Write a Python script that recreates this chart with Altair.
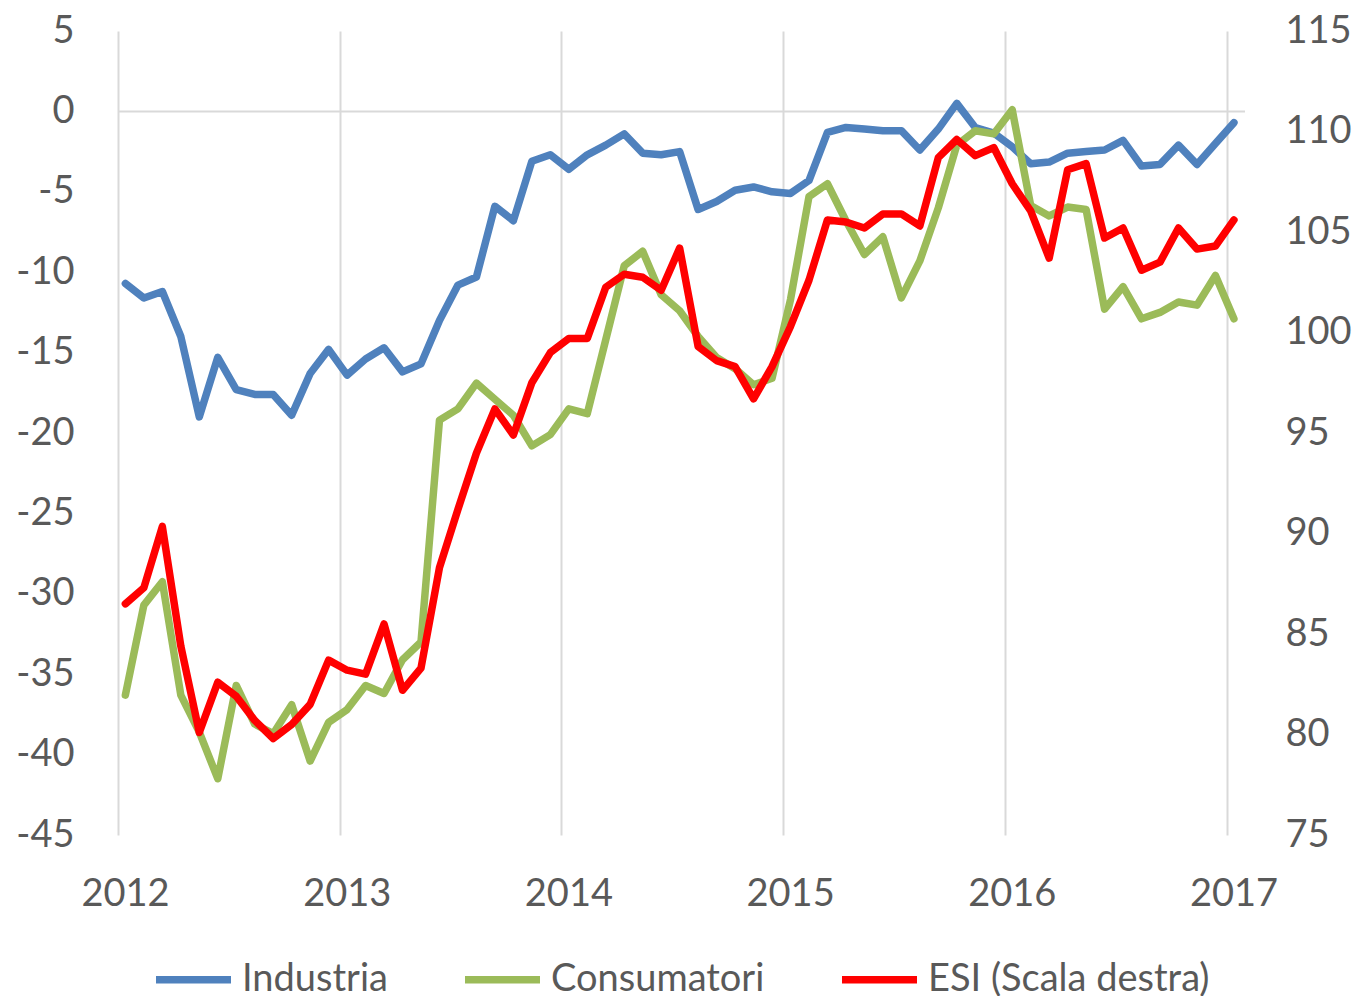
import altair as alt
import pandas as pd

months = list(range(61))  # Jan 2012 .. Jan 2017

industria = [-10.7, -11.6, -11.2, -14.0, -19.0, -15.3, -17.3, -17.6, -17.6, -18.9,
             -16.3, -14.8, -16.4, -15.4, -14.7, -16.2, -15.7, -13.0, -10.8, -10.3,
             -5.9, -6.8, -3.1, -2.7, -3.6, -2.7, -2.1, -1.4, -2.6, -2.7,
             -2.5, -6.1, -5.6, -4.9, -4.7, -5.0, -5.1, -4.3, -1.3, -1.0,
             -1.1, -1.2, -1.2, -2.4, -1.1, 0.5, -1.0, -1.35, -2.2, -3.25,
             -3.15, -2.6, -2.5, -2.4, -1.8, -3.4, -3.3, -2.1, -3.3, -2.0,
             -0.7]

consumatori = [-36.3, -30.7, -29.25, -36.3, -38.6, -41.5, -35.7, -38.1, -38.7, -36.9,
               -40.4, -38.0, -37.2, -35.7, -36.2, -34.1, -33.0, -19.2, -18.5, -16.9,
               -17.9, -18.9, -20.8, -20.1, -18.5, -18.8, -14.2, -9.6, -8.7, -11.4,
               -12.4, -14.0, -15.3, -16.0, -17.0, -16.6, -11.7, -5.3, -4.5, -6.8,
               -8.9, -7.8, -11.6, -9.3, -6.0, -2.1, -1.2, -1.4, 0.1, -5.85,
               -6.5, -5.95, -6.1, -12.3, -10.9, -12.9, -12.5, -11.85, -12.05, -10.2,
               -12.9]

esi = [86.5, 87.3, 90.35, 84.4, 80.1, 82.6, 81.9, 80.7, 79.8, 80.5,
       81.5, 83.7, 83.2, 83.0, 85.5, 82.2, 83.3, 88.3, 91.2, 94.0,
       96.2, 94.9, 97.5, 99.0, 99.7, 99.7, 102.25, 102.9, 102.75, 102.1,
       104.2, 99.3, 98.6, 98.3, 96.7, 98.3, 100.3, 102.6, 105.6, 105.5,
       105.2, 105.9, 105.9, 105.3, 108.7, 109.6, 108.8, 109.2, 107.4, 106.05,
       103.7, 108.1, 108.4, 104.7, 105.2, 103.1, 103.5, 105.2, 104.15, 104.3,
       105.6]

series_names = ["Industria", "Consumatori", "ESI (Scala destra)"]
series_colors = ["#4F81BD", "#9BBB59", "#FF0000"]
year_ticks = [0, 12, 24, 36, 48, 60]
left_ticks = [-45, -40, -35, -30, -25, -20, -15, -10, -5, 0, 5]
right_ticks = [75, 80, 85, 90, 95, 100, 105, 110, 115]

OFFSET = 0.4  # points sit a little right of the year gridlines

left_rows = []
for name, vals in [("Industria", industria), ("Consumatori", consumatori)]:
    for m, v in zip(months, vals):
        left_rows.append({"pos": m + OFFSET, "val": v, "serie": name})
left_df = pd.DataFrame(left_rows)
right_df = pd.DataFrame({"pos": [m + OFFSET for m in months], "val": esi,
                         "serie": "ESI (Scala destra)"})
zero_df = pd.DataFrame({"z": [0]})

TXT = "#595959"
FONT = "Lato"
FS = 38
LW = 7.5

x_enc = alt.X("pos:Q",
              scale=alt.Scale(domain=[0, 61], nice=False, zero=False),
              axis=alt.Axis(values=year_ticks,
                            labelExpr="toString(2012 + datum.value/12)",
                            grid=True, gridColor="#d9d9d9", gridWidth=2,
                            domain=False, ticks=False, labelFontSize=FS,
                            labelFont=FONT, labelColor=TXT, labelPadding=40,
                            labelOffset=7, labelFlush=False, labelOverlap=False,
                            title=None))

left_scale = alt.Scale(domain=[-45, 5], nice=False, zero=False)
left_axis = alt.Axis(values=left_ticks, grid=False, domain=False, ticks=False,
                     labelExpr="toString(datum.value)",
                     labelFontSize=FS, labelFont=FONT, labelColor=TXT,
                     labelPadding=44, title=None)
right_scale = alt.Scale(domain=[75, 115], nice=False, zero=False)
right_axis = alt.Axis(values=right_ticks, grid=False, domain=False, ticks=False,
                      labelExpr="toString(datum.value)",
                      labelFontSize=FS, labelFont=FONT, labelColor=TXT,
                      labelPadding=40, title=None, orient="right")

legend = alt.Legend(orient="none", legendX=34, legendY=907,
                    direction="horizontal", symbolType="stroke",
                    symbolSize=5625, symbolStrokeWidth=LW,
                    labelFontSize=FS, labelFont=FONT, labelColor=TXT,
                    labelOffset=7, columnPadding=62, labelLimit=600,
                    title=None)
color_enc = alt.Color("serie:N",
                      scale=alt.Scale(domain=series_names, range=series_colors),
                      sort=series_names, legend=legend)

zero_rule = alt.Chart(zero_df).mark_rule(color="#d9d9d9", strokeWidth=2).encode(
    y=alt.Y("z:Q", scale=left_scale, axis=left_axis)
)

left_lines = alt.Chart(left_df).mark_line(
    strokeWidth=LW, strokeJoin="round", strokeCap="round"
).encode(
    x=x_enc,
    y=alt.Y("val:Q", scale=left_scale, axis=left_axis),
    color=color_enc,
    detail="serie:N",
)

right_line = alt.Chart(right_df).mark_line(
    strokeWidth=LW, strokeJoin="round", strokeCap="round"
).encode(
    x=x_enc,
    y=alt.Y("val:Q", scale=right_scale, axis=right_axis),
    color=color_enc,
)

left_layer = alt.layer(zero_rule, left_lines)

chart = alt.layer(left_layer, right_line).resolve_scale(
    y="independent"
).properties(
    width=1127, height=804,
    autosize=alt.AutoSizeParams(type="none"),
    padding={"left": 110, "top": 23, "right": 108, "bottom": 161},
).configure_view(stroke=None)

chart.save("out.html", embed_options={"renderer": "svg", "actions": False})
